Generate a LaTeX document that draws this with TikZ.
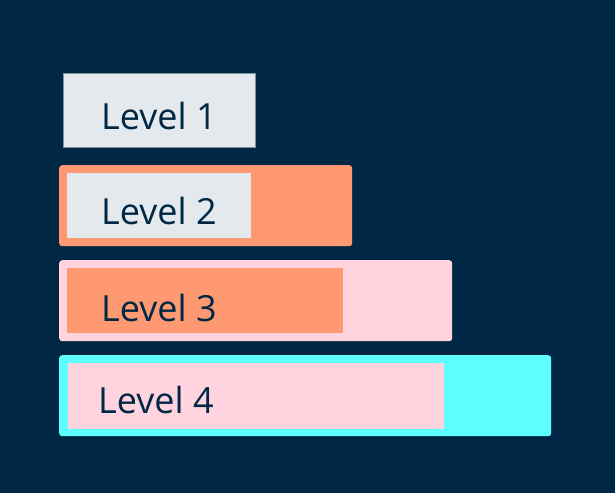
\documentclass[tikz,border=0pt]{standalone}
\usepackage{fontspec}
\setmainfont{Open Sans}
\usepackage{xcolor}
\usetikzlibrary{positioning}
\definecolor{bgNavy}{RGB}{0, 40, 69}
\definecolor{lvGray}{RGB}{228, 233, 237}
\definecolor{lvSalmon}{RGB}{255, 153, 114}
\definecolor{lvPink}{RGB}{255, 212, 223}
\definecolor{lvCyan}{RGB}{94, 255, 255}
\begin{document}
\begin{tikzpicture}[
        x=1pt, y=-1pt,
        font=\fontsize{36}{40}\selectfont\color{bgNavy},
        outer/.style={rectangle, rounded corners=3pt, anchor=north west, inner sep=0pt},
        inner/.style={rectangle, anchor=north west, inner sep=0pt},
        lbl/.style={anchor=base west, inner sep=0pt}
    ]
    \fill[bgNavy] (0,0) rectangle (615,493);
    \useasboundingbox (0,0) rectangle (615,493);

    % level 1
    \node[inner, fill=lvGray, draw=bgNavy!45!lvGray, line width=0.6pt,
        minimum width=192pt, minimum height=74pt] (b1) at (63,73) {};
    \node[lbl] (t1) at (101,129) {Level 1};

    % level 2
    \node[outer, fill=lvSalmon, minimum width=293pt, minimum height=81pt] (o2) at (59,165) {};
    \node[inner, fill=lvGray, minimum width=184pt, minimum height=65pt] (b2) at (67,173) {};
    \node[lbl] (t2) at (101,224) {Level 2};

    % level 3
    \node[outer, fill=lvPink, minimum width=393pt, minimum height=81pt] (o3) at (59,260) {};
    \node[inner, fill=lvSalmon, minimum width=276pt, minimum height=65pt] (b3) at (67,268) {};
    \node[lbl] (t3) at (101,321) {Level 3};

    % level 4
    \node[outer, fill=lvCyan, minimum width=492pt, minimum height=81pt] (o4) at (59,355) {};
    \node[inner, fill=lvPink, minimum width=376pt, minimum height=66pt] (b4) at (68,363) {};
    \node[lbl] (t4) at (98,413) {Level 4};
\end{tikzpicture}
\end{document}
